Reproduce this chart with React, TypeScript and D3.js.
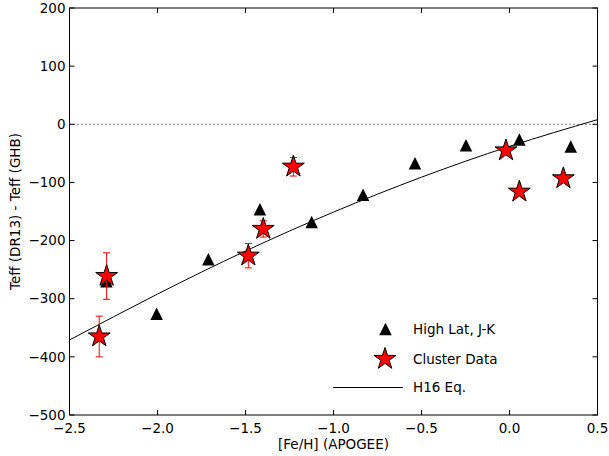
import React from "react";
import * as d3 from "d3";

const triFeH = [-2.29, -2.005, -1.711, -1.418, -1.124, -0.832, -0.537, -0.247, 0.056, 0.348];
const triDT = [-270, -326, -232, -146, -168, -121, -67, -36, -26, -38];

const starFeH = [-2.331, -2.289, -1.484, -1.399, -1.228, -0.02, 0.056, 0.306];
const starDT = [-365, -261, -226, -180, -73, -45, -116, -93];
const starErr = [35, 40, 21, 14, 16, 7, 4, 4];

const lineFeH = [-2.5, -2.0, -1.5, -1.0, -0.5, 0.0, 0.5];
const lineDT = [-371, -292, -218, -151, -91, -38, 8];

const xTicks = [-2.5, -2.0, -1.5, -1.0, -0.5, 0.0, 0.5];
const yTicks = [200, 100, 0, -100, -200, -300, -400, -500];

const W = 609, H = 456;
const L = 69.5, R = 597.5, T = 8, B = 415;
const FONT = "'DejaVu Sans', sans-serif";
const FS = 13.5;

function starPath(r: number) {
  const ri = r * 0.381966;
  const pts: string[] = [];
  for (let i = 0; i < 10; i++) {
    const a = (Math.PI / 5) * i;
    const rr = i % 2 === 0 ? r : ri;
    pts.push(`${(rr * Math.sin(a)).toFixed(2)},${(-rr * Math.cos(a)).toFixed(2)}`);
  }
  return "M" + pts.join("L") + "Z";
}
function triPath(s: number) {
  const h = s / 2;
  return `M0,${-h}L${h},${h}L${-h},${h}Z`;
}
const fmt = (v: number, d: number) => {
  const s = Math.abs(v).toFixed(d);
  return v < 0 ? "\u2212" + s : s;
};

export default function App() {
  const x = d3.scaleLinear().domain([-2.5, 0.5]).range([L, R]);
  const y = d3.scaleLinear().domain([-500, 200]).range([B, T]);
  const line = d3
    .line<number>()
    .x((_, i) => x(lineFeH[i]))
    .y((d) => y(d))
    .curve(d3.curveNatural);
  const sp = starPath(11.5);
  const tp = triPath(12.5);
  const tick = 5;
  return (
    <svg width={W} height={H} style={{ position: "absolute", left: 0, top: 0 }} fontFamily={FONT}>
      <rect width={W} height={H} fill="#fff" />
      <defs>
        <clipPath id="pa">
          <rect x={L} y={T} width={R - L} height={B - T} />
        </clipPath>
      </defs>
      <line x1={L} x2={R} y1={y(0)} y2={y(0)} stroke="#000" strokeWidth={1} strokeDasharray="1,3" />
      <g clipPath="url(#pa)">
        <path d={line(lineDT) || ""} fill="none" stroke="#000" strokeWidth={1} />
      </g>
      {triFeH.map((v, i) => (
        <path key={"t" + i} d={tp} transform={`translate(${x(v)},${y(triDT[i])})`} fill="#000" />
      ))}
      {starFeH.map((v, i) => {
        const cx = x(v);
        const y1 = y(starDT[i] + starErr[i]);
        const y2 = y(starDT[i] - starErr[i]);
        return (
          <g key={"e" + i} stroke="#ff0000" strokeWidth={1}>
            <line x1={cx} x2={cx} y1={y1} y2={y2} />
            <line x1={cx - 3.5} x2={cx + 3.5} y1={y1} y2={y1} />
            <line x1={cx - 3.5} x2={cx + 3.5} y1={y2} y2={y2} />
          </g>
        );
      })}
      {starFeH.map((v, i) => (
        <path key={"s" + i} d={sp} transform={`translate(${x(v)},${y(starDT[i])})`} fill="#ff0000" stroke="#000" strokeWidth={1} />
      ))}
      <rect x={L} y={T} width={R - L} height={B - T} fill="none" stroke="#000" strokeWidth={1} />
      {xTicks.map((t) => (
        <g key={"xt" + t}>
          <line x1={x(t)} x2={x(t)} y1={B} y2={B - tick} stroke="#000" />
          <line x1={x(t)} x2={x(t)} y1={T} y2={T + tick} stroke="#000" />
          <text x={x(t)} y={B + 18} textAnchor="middle" fontSize={FS}>{fmt(t, 1)}</text>
        </g>
      ))}
      {yTicks.map((t) => (
        <g key={"yt" + t}>
          <line x1={L} x2={L + tick} y1={y(t)} y2={y(t)} stroke="#000" />
          <line x1={R} x2={R - tick} y1={y(t)} y2={y(t)} stroke="#000" />
          <text x={L - 4} y={y(t)} dy="0.35em" textAnchor="end" fontSize={FS}>{fmt(t, 0)}</text>
        </g>
      ))}
      <text x={(L + R) / 2} y={448.5} textAnchor="middle" fontSize={FS}>[Fe/H] (APOGEE)</text>
      <text transform={`translate(20,${(T + B) / 2}) rotate(-90)`} textAnchor="middle" fontSize={FS}>Teff (DR13) - Teff (GHB)</text>
      <g>
        <path d={tp} transform="translate(385.5,329)" fill="#000" />
        <text x={413} y={329} dy="0.35em" fontSize={FS}>High Lat, J-K</text>
        <path d={sp} transform="translate(385,359)" fill="#ff0000" stroke="#000" strokeWidth={1} />
        <text x={413} y={359} dy="0.35em" fontSize={FS}>Cluster Data</text>
        <line x1={333} x2={403} y1={387.5} y2={387.5} stroke="#000" strokeWidth={1} />
        <text x={413} y={387.5} dy="0.35em" fontSize={FS}>H16 Eq.</text>
      </g>
    </svg>
  );
}
